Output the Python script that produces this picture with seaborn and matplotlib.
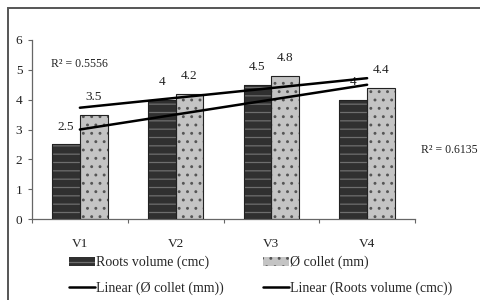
import numpy as np
import pandas as pd
import matplotlib
matplotlib.use('Agg')
import matplotlib.pyplot as plt
from matplotlib.patches import Patch, Rectangle
from matplotlib.lines import Line2D
import seaborn as sns

# Data
variants = ['V1', 'V2', 'V3', 'V4']
roots_volume = [2.5, 4, 4.5, 4]
collet = [3.5, 4.2, 4.8, 4.4]
series_names = ['Roots volume (cmc)', 'Ø collet (mm)']

df = pd.DataFrame({
    'variant': variants * 2,
    'series': [series_names[0]] * 4 + [series_names[1]] * 4,
    'value': roots_volume + collet,
})

sns.set_style('ticks')
plt.rcParams['font.family'] = ['Liberation Serif', 'DejaVu Serif']
plt.rcParams['hatch.linewidth'] = 0.9
FS = 9.5

fig = plt.figure(figsize=(4.8, 3.0), dpi=100)
ax = fig.add_axes([32 / 480, 1 - 219 / 300, (415 - 32) / 480, (219 - 40) / 300])

sns.barplot(data=df, x='variant', y='value', hue='series', hue_order=series_names,
            palette=['#333333', '#c4c4c4'], width=0.58, gap=0, errorbar=None,
            legend=False, ax=ax)

# hatch styles: (face, hatch colour, pattern)
styles = [('#303030', '#6e6e6e', '--'), ('#c4c4c4', '#555555', '..')]
for cont, (face, hcol, hatch) in zip(ax.containers, styles):
    for bar in cont:
        bar.set_facecolor(face)
        bar.set_edgecolor(hcol)
        bar.set_hatch(hatch)
        bar.set_linewidth(0)
        ax.add_patch(Rectangle(bar.get_xy(), bar.get_width(), bar.get_height(),
                               fill=False, edgecolor='#222222', lw=0.8, zorder=3))
        v = bar.get_height()
        ax.annotate(f'{v:g}', (bar.get_x() + bar.get_width() / 2, v),
                    xytext=(0, 12.5), textcoords='offset points',
                    ha='center', va='center', fontsize=FS, color='#222222')

# linear trend lines
x = np.arange(len(variants))
r2 = {}
for name, y in zip(series_names, [roots_volume, collet]):
    sns.regplot(x=x, y=y, ci=None, scatter=False, truncate=True, color='black',
                line_kws={'lw': 1.8, 'zorder': 4}, ax=ax)
    r2[name] = np.corrcoef(x, y)[0, 1] ** 2

ax.text(0, 5.2, f'R² = {r2[series_names[0]]:.4f}', ha='center', va='center',
        fontsize=8.5, color='#222222')
fig.text(478 / 480, 1 - 150 / 300, f'R² = {r2[series_names[1]]:.4f}', ha='right',
         va='center', fontsize=8.5, color='#222222')

ax.set_xlim(-0.5, 3.5)
ax.set_ylim(0, 6)
ax.set_yticks(range(0, 7))
ax.set_xticks(x)
ax.set_xticklabels(variants)
ax.set_xticks(np.arange(-0.5, 4, 1), minor=True)
ax.set_xlabel('')
ax.set_ylabel('')
sns.despine(ax=ax)
for s in ['left', 'bottom']:
    ax.spines[s].set_color('#666666')
    ax.spines[s].set_linewidth(0.9)
ax.tick_params(axis='y', length=3, width=0.8, color='#666666', labelsize=FS, pad=4,
               labelcolor='#222222')
ax.tick_params(axis='x', which='major', length=0, labelsize=FS, pad=14, labelcolor='#222222')
ax.tick_params(axis='x', which='minor', length=3, width=0.8, color='#666666')

# legend
handles = [
    Patch(facecolor='#303030', edgecolor='#6e6e6e', hatch='--', lw=0),
    Line2D([], [], color='black', lw=1.8),
    Patch(facecolor='#c4c4c4', edgecolor='#555555', hatch='..', lw=0),
    Line2D([], [], color='black', lw=1.8),
]
labels = [series_names[0], f'Linear ({series_names[1]})',
          series_names[1], f'Linear ({series_names[0]})']
fig.legend(handles, labels, ncol=2, loc='upper left', bbox_to_anchor=(69 / 480, 1 - 256 / 300),
           frameon=False, fontsize=10, handlelength=1.85, handleheight=0.6,
           handletextpad=0.1, columnspacing=2.85, labelspacing=0.85, borderpad=0,
           borderaxespad=0)

# outer frame
fig.patches.append(Rectangle((8 / 480, -0.1), 1.2, 1.1 - 8 / 300,
                             transform=fig.transFigure, fill=False,
                             edgecolor='#555555', lw=1.4))

fig.savefig('out.png', dpi=100)
